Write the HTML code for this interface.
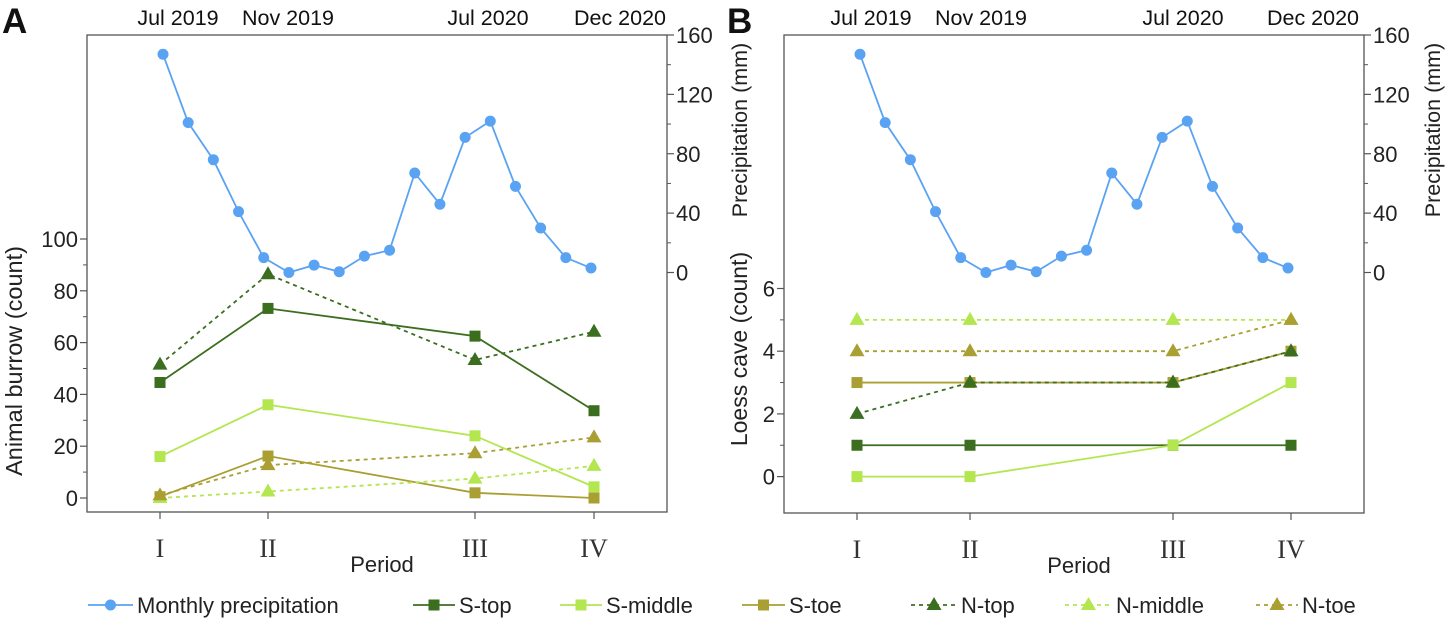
<!DOCTYPE html>
<html><head><meta charset="utf-8"><style>
body{margin:0;background:#fff;}
svg{display:block;font-family:"Liberation Sans",sans-serif;}
</style></head><body>
<svg id="chart" width="1450" height="622" viewBox="0 0 1450 622"></svg>
<script>
const periods=["I","II","III","IV"];
const months=["Jul 2019","Aug 2019","Sep 2019","Oct 2019","Nov 2019","Dec 2019","Jan 2020","Feb 2020","Mar 2020","Apr 2020","May 2020","Jun 2020","Jul 2020","Aug 2020","Sep 2020","Oct 2020","Nov 2020","Dec 2020"];
const precip=[147,101,76,41,10,0,5,0.5,11,15,67,46,91,102,58,30,10,3];
const burrowSTop=[44.6,73.2,62.5,33.7];
const burrowSMid=[16,36,24,4.3];
const burrowSToe=[0.5,16.2,2,0];
const burrowNTop=[51.5,86.4,53.3,64.2];
const burrowNMid=[0,2.5,7.5,12.4];
const burrowNToe=[1,12.7,17.3,23.4];
const caveSTop=[1,1,1,1];
const caveSMid=[0,0,1,3];
const caveSToe=[3,3,3,4];
const caveNTop=[2,3,3,4];
const caveNMid=[5,5,5,5];
const caveNToe=[4,4,4,5];
const leftTicksA=[0,20,40,60,80,100];
const leftTicksB=[0,2,4,6];
const precipTicks=[0,40,80,120,160];
const topLabels=["Jul 2019","Nov 2019","Jul 2020","Dec 2020"];

const svg=document.getElementById('chart');
const NS='http://www.w3.org/2000/svg';
function mk(tag,attrs,parent){const e=document.createElementNS(NS,tag);for(const k in attrs)e.setAttribute(k,attrs[k]);(parent||svg).appendChild(e);return e;}
function txt(s,x,y,attrs,parent){const t=mk('text',Object.assign({x:x,y:y},attrs),parent);t.textContent=s;return t;}

const C={blue:'#5aa2f2',dark:'#3b6e1f',light:'#b3e64f',olive:'#aa9f33'};

function panel(cfg){
  const g=mk('g',{});
  
  
  const L=cfg.left,R=cfg.right,T=35,B=cfg.bottom;
  const px=i=>cfg.px[i];
  const yC=v=>cfg.y0+(cfg.y1-cfg.y0)*(v/cfg.ymax);
  const yP=v=>272.5-(272.5-35)*v/160;
  const xm=i=>cfg.m0+(cfg.m1-cfg.m0)*i/(months.length-1);
  const fr=mk('rect',{x:L,y:T,width:R-L,height:B-T,fill:'none',stroke:'#555','stroke-width':1.3},g);
  
  const ax=mk('g',{},g);
  cfg.lticks.forEach((v,i)=>{
    const y=yC(v);
    mk('line',{x1:L-7,x2:L,y1:y,y2:y,stroke:'#555','stroke-width':1.2},ax);
    if(i<cfg.lticks.length-1){const ym=yC(v+cfg.lstep/2);mk('line',{x1:L-4,x2:L,y1:ym,y2:ym,stroke:'#555','stroke-width':1},ax);}
    txt(String(v),L-9,y+8,{'font-size':22,'text-anchor':'end',fill:'#222'},ax);
  });
  const ar=mk('g',{},g);
  precipTicks.forEach((v,i)=>{
    const y=yP(v);
    mk('line',{x1:R,x2:R+7,y1:y,y2:y,stroke:'#555','stroke-width':1.2},ar);
    if(i<precipTicks.length-1){const ym=yP(v+20);mk('line',{x1:R,x2:R+4,y1:ym,y2:ym,stroke:'#555','stroke-width':1},ar);}
    txt(String(v),R+9,y+8,{'font-size':22,fill:'#222'},ar);
  });
  periods.forEach((p,i)=>{
    mk('line',{x1:px(i),x2:px(i),y1:B,y2:B+7,stroke:'#555','stroke-width':1.2},g);
    const t=txt(p,px(i),B+45,{'font-size':26,'text-anchor':'middle','font-family':'"Liberation Serif",serif',fill:'#333'},g);
    
  });
  const xt=txt('Period',(L+R)/2+5,B+60,{'font-size':22,'text-anchor':'middle',fill:'#222'},g);
  
  topLabels.forEach((s,i)=>{
    const t=txt(s,cfg.tl[i],25,{'font-size':21.5,'text-anchor':'middle',fill:'#111'},g);
    
  });
  const pg=mk('g',{},g);
  mk('polyline',{points:precip.map((v,i)=>xm(i)+','+yP(v)).join(' '),fill:'none',stroke:C.blue,'stroke-width':1.8},pg);
  precip.forEach((v,i)=>{const c=mk('circle',{cx:xm(i),cy:yP(v),r:5.5,fill:C.blue},pg);
    });
  cfg.series.forEach(s=>{
    const sg=mk('g',{},g);
    
    const a={points:s.data.map((v,i)=>px(i)+','+yC(v)).join(' '),fill:'none',stroke:s.color,'stroke-width':1.8};
    if(s.tri)a['stroke-dasharray']='4,4';
    mk('polyline',a,sg);
    s.data.forEach((v,i)=>{
      const x=px(i),y=yC(v);let m;
      if(s.tri)m=mk('polygon',{points:(x)+','+(y-8)+' '+(x-7.5)+','+(y+5)+' '+(x+7.5)+','+(y+5),fill:s.color},sg);
      else m=mk('rect',{x:x-5.5,y:y-5.5,width:11,height:11,fill:s.color},sg);
      
    });
  });
  return g;
}

panel({name:'panel-a',left:87,right:667,bottom:512,px:[160,268,475,594],m0:163,m1:591,y0:498,y1:239,ymax:100,lticks:leftTicksA,lstep:20,tl:[178,288,488,620],
 series:[
  {name:'s-top-series',data:burrowSTop,color:C.dark},
  {name:'s-middle-series',data:burrowSMid,color:C.light},
  {name:'s-toe-series',data:burrowSToe,color:C.olive},
  {name:'n-top-series',data:burrowNTop,color:C.dark,tri:1},
  {name:'n-middle-series',data:burrowNMid,color:C.light,tri:1},
  {name:'n-toe-series',data:burrowNToe,color:C.olive,tri:1}]});
panel({name:'panel-b',left:784,right:1364,bottom:513,px:[857,970,1173,1291],m0:860,m1:1288,y0:476.6,y1:288.5,ymax:6,lticks:leftTicksB,lstep:2,tl:[871,981,1183,1313],
 series:[
  {name:'b-s-top-series',data:caveSTop,color:C.dark},
  {name:'b-s-middle-series',data:caveSMid,color:C.light},
  {name:'b-s-toe-series',data:caveSToe,color:C.olive},
  {name:'b-n-top-series',data:caveNTop,color:C.dark,tri:1},
  {name:'b-n-middle-series',data:caveNMid,color:C.light,tri:1},
  {name:'b-n-toe-series',data:caveNToe,color:C.olive,tri:1}]});

function rot(s,x,y,fs,name){const t=txt(s,x,y,{'font-size':fs,'text-anchor':'middle',fill:'#222',transform:'rotate(-90 '+x+' '+y+')'});
  }
rot('Animal burrow (count)',22,361,23.5,'y-axis-title-a');
rot('Loess cave (count)',747,349,23,'y-axis-title-b');
rot('Precipitation (mm)',747,130,21.5,'y2-axis-title-b-left');
rot('Precipitation (mm)',1440,130,21.5,'y2-axis-title-b-right');
const la=txt('A',2,33,{'font-size':35,'font-weight':'bold',fill:'#111'});
const lb=txt('B',727,33,{'font-size':35,'font-weight':'bold',fill:'#111'});

const leg=mk('g',{});
const legItems=[
 ['Monthly precipitation',C.blue,'c',0,88,133],
 ['S-top',C.dark,'s',0,413,455],
 ['S-middle',C.light,'s',0,560,602],
 ['S-toe',C.olive,'s',0,742,785],
 ['N-top',C.dark,'t',1,911,957],
 ['N-middle',C.light,'t',1,1065,1112],
 ['N-toe',C.olive,'t',1,1256,1298]];
legItems.forEach(it=>{
  const e=mk('g',{},leg);
  
  
  const y=605,x1=it[4],x2=it[5],cx=(x1+x2)/2;
  const a={x1:x1,x2:x2,y1:y,y2:y,stroke:it[1],'stroke-width':1.8};if(it[3])a['stroke-dasharray']='4,4';
  mk('line',a,e);
  if(it[2]=='c')mk('circle',{cx:cx,cy:y,r:5.5,fill:it[1]},e);
  else if(it[2]=='s')mk('rect',{x:cx-5.5,y:y-5.5,width:11,height:11,fill:it[1]},e);
  else mk('polygon',{points:cx+','+(y-8)+' '+(cx-7.5)+','+(y+5)+' '+(cx+7.5)+','+(y+5),fill:it[1]},e);
  txt(it[0],x2+4,y+8,{'font-size':22,fill:'#222'},e);
});
</script>
</body></html>
